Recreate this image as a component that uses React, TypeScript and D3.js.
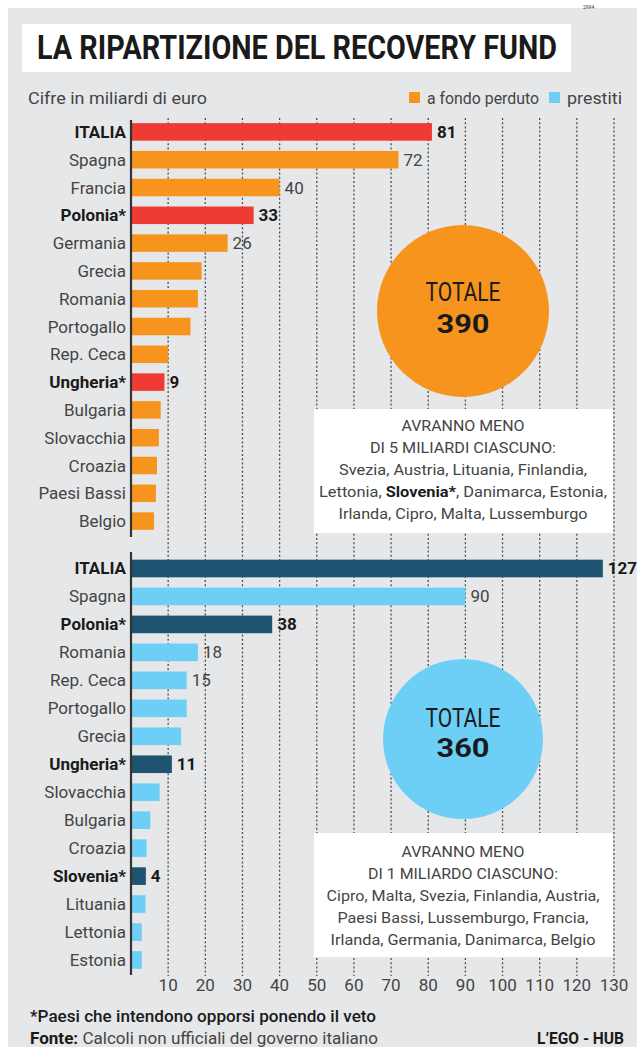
import React from "react";
import * as d3 from "d3";

// ---------- DATA ----------
const grantCountries = ["ITALIA", "Spagna", "Francia", "Polonia*", "Germania", "Grecia", "Romania", "Portogallo", "Rep. Ceca", "Ungheria*", "Bulgaria", "Slovacchia", "Croazia", "Paesi Bassi", "Belgio"];
const grantValues = [81, 72, 40, 33, 26, 19, 18, 16, 10, 9, 8, 7.5, 7, 6.7, 6.2];
const grantLabels = ["81", "72", "40", "33", "26", "", "", "", "", "9", "", "", "", "", ""];
const grantVeto = [true, false, false, true, false, false, false, false, false, true, false, false, false, false, false];

const loanCountries = ["ITALIA", "Spagna", "Polonia*", "Romania", "Rep. Ceca", "Portogallo", "Grecia", "Ungheria*", "Slovacchia", "Bulgaria", "Croazia", "Slovenia*", "Lituania", "Lettonia", "Estonia"];
const loanValues = [127, 90, 38, 18, 15, 15, 13.5, 11, 7.7, 5.2, 4.2, 4, 3.9, 2.9, 2.9];
const loanLabels = ["127", "90", "38", "18", "15", "", "", "11", "", "", "", "4", "", "", ""];
const loanVeto = [true, false, true, false, false, false, false, true, false, false, false, true, false, false, false];

const ticks = [10, 20, 30, 40, 50, 60, 70, 80, 90, 100, 110, 120, 130];

const grantTotal = "390";
const loanTotal = "360";

const grantNote: [string, boolean][][] = [
  [["AVRANNO MENO", false]],
  [["DI 5 MILIARDI CIASCUNO:", false]],
  [["Svezia, Austria, Lituania, Finlandia,", false]],
  [["Lettonia, ", false], ["Slovenia*", true], [", Danimarca, Estonia,", false]],
  [["Irlanda, Cipro, Malta, Lussemburgo", false]],
];
const loanNote: [string, boolean][][] = [
  [["AVRANNO MENO", false]],
  [["DI 1 MILIARDO CIASCUNO:", false]],
  [["Cipro, Malta, Svezia, Finlandia, Austria,", false]],
  [["Paesi Bassi, Lussemburgo, Francia,", false]],
  [["Irlanda, Germania, Danimarca, Belgio", false]],
];

// ---------- STYLE / LAYOUT ----------
const FONT = "Roboto, 'Liberation Sans', Arial, sans-serif";
const C = {
  bg: "#e6e7e8",
  orange: "#f7941d",
  red: "#ee3b34",
  light: "#6dcff6",
  dark: "#1e5472",
  text: "#444444",
  bold: "#1a1a1a",
  grid: "#4d4d4d",
};
const grantNoteWidths = [123, 186, 248, 288, 249];
const loanNoteWidths = [123, 190, 273, 251, 265];

export default function App() {
  const x = d3.scaleLinear().domain([0, 130]).range([131, 614]);
  const yTop = d3.scaleBand<string>().domain(grantCountries).range([118, 535]).paddingInner(0.37).paddingOuter(0.185);
  const yBot = d3.scaleBand<string>().domain(loanCountries).range([554.5, 974]).paddingInner(0.37).paddingOuter(0.185);

  const renderBars = (
    countries: string[],
    values: number[],
    labels: string[],
    veto: boolean[],
    y: d3.ScaleBand<string>,
    normal: string,
    hi: string
  ) =>
    countries.map((c, i) => {
      const y0 = y(c)!;
      const bw = y.bandwidth();
      const cy = y0 + bw / 2;
      return (
        <g key={c + i}>
          <rect x={x(0) + 1} y={y0} width={x(values[i]) - x(0) - 1} height={bw} fill={veto[i] ? hi : normal} />
          <text
            x={126}
            y={cy + 6}
            textAnchor="end"
            fontSize={17}
            fontWeight={veto[i] ? 700 : 400}
            fill={veto[i] ? C.bold : C.text}
          >
            {c}
          </text>
          {labels[i] && (
            <text
              x={x(values[i]) + 5}
              y={cy + 6}
              fontSize={17}
              fontWeight={veto[i] ? 700 : 400}
              fill={veto[i] ? C.bold : C.text}
            >
              {labels[i]}
            </text>
          )}
        </g>
      );
    });

  const renderNote = (lines: [string, boolean][][], widths: number[], y0: number) =>
    lines.map((segs, i) => (
      <text
        key={i}
        x={463}
        y={y0 + i * 22}
        textAnchor="middle"
        fontSize={15}
        fill={C.text}
        textLength={widths[i]}
        lengthAdjust="spacingAndGlyphs"
      >
        {segs.map(([t, b], j) => (
          <tspan key={j} fontWeight={b ? 700 : 400} fill={b ? C.bold : C.text}>
            {t}
          </tspan>
        ))}
      </text>
    ));

  return (
    <svg
      width={637}
      height={1047}
      style={{ position: "absolute", left: 0, top: 0, display: "block" }}
      fontFamily={FONT}
    >
      <rect x={8} y={8} width={629} height={1039} fill={C.bg} />
      <text x={583} y={9} fontSize={5} fill="#333">2994</text>

      {/* title */}
      <rect x={22} y={24} width={549} height={48} fill="#ffffff" />
      <text x={37} y={59} fontSize={33} fontWeight={700} fill={C.bold} textLength={520} lengthAdjust="spacingAndGlyphs">
        LA RIPARTIZIONE DEL RECOVERY FUND
      </text>

      {/* subtitle + legend */}
      <text x={28} y={104} fontSize={17} fill={C.text} textLength={179} lengthAdjust="spacingAndGlyphs">
        Cifre in miliardi di euro
      </text>
      <rect x={409} y={92} width={11} height={11} fill={C.orange} />
      <text x={427} y={104} fontSize={16} fill={C.text} textLength={112} lengthAdjust="spacingAndGlyphs">
        a fondo perduto
      </text>
      <rect x={549} y={92} width={11} height={11} fill={C.light} />
      <text x={567} y={104} fontSize={16} fill={C.text} textLength={55} lengthAdjust="spacingAndGlyphs">
        prestiti
      </text>

      {/* grid */}
      {ticks.map((t) => (
        <line key={t} x1={x(t)} x2={x(t)} y1={118} y2={976} stroke={C.grid} strokeWidth={1.3} strokeDasharray="2,2.2" />
      ))}

      {/* circles and notes */}
      <circle cx={463} cy={311} r={86} fill={C.orange} />
      <text x={463} y={301} textAnchor="middle" fontSize={25} fill={C.bold} textLength={75} lengthAdjust="spacingAndGlyphs">TOTALE</text>
      <text x={463} y={333} textAnchor="middle" fontSize={26} fontWeight={700} fill={C.bold} textLength={53} lengthAdjust="spacingAndGlyphs">{grantTotal}</text>
      <rect x={314} y={409} width={299} height={124} fill="#ffffff" />
      {renderNote(grantNote, grantNoteWidths, 431)}

      <circle cx={463} cy={739} r={80} fill={C.light} />
      <text x={463} y={727} textAnchor="middle" fontSize={25} fill={C.bold} textLength={75} lengthAdjust="spacingAndGlyphs">TOTALE</text>
      <text x={463} y={757} textAnchor="middle" fontSize={26} fontWeight={700} fill={C.bold} textLength={53} lengthAdjust="spacingAndGlyphs">{loanTotal}</text>
      <rect x={314} y={833} width={299} height={124} fill="#ffffff" />
      {renderNote(loanNote, loanNoteWidths, 857)}

      {/* bars */}
      {renderBars(grantCountries, grantValues, grantLabels, grantVeto, yTop, C.orange, C.red)}
      {renderBars(loanCountries, loanValues, loanLabels, loanVeto, yBot, C.light, C.dark)}

      {/* axis lines */}
      <line x1={x(0)} x2={x(0)} y1={120} y2={537} stroke="#333" strokeWidth={2.2} />
      <line x1={x(0)} x2={x(0)} y1={552} y2={975} stroke="#333" strokeWidth={2.2} />

      {/* tick labels */}
      {ticks.map((t) => (
        <text key={t} x={x(t)} y={991} textAnchor="middle" fontSize={17} fill={C.text}>
          {t}
        </text>
      ))}

      {/* footer */}
      <text x={30} y={1022} fontSize={17} fontWeight={500} fill={C.bold} textLength={346} lengthAdjust="spacingAndGlyphs">
        *Paesi che intendono opporsi ponendo il veto
      </text>
      <text x={30} y={1044} fontSize={17} fill={C.text} textLength={348} lengthAdjust="spacingAndGlyphs">
        <tspan fontWeight={700} fill={C.bold}>Fonte:</tspan>
        <tspan> Calcoli non ufficiali del governo italiano</tspan>
      </text>
      <text x={537} y={1044} fontSize={16} fontWeight={700} fill={C.bold} textLength={87} lengthAdjust="spacingAndGlyphs">
        L’EGO - HUB
      </text>
    </svg>
  );
}
